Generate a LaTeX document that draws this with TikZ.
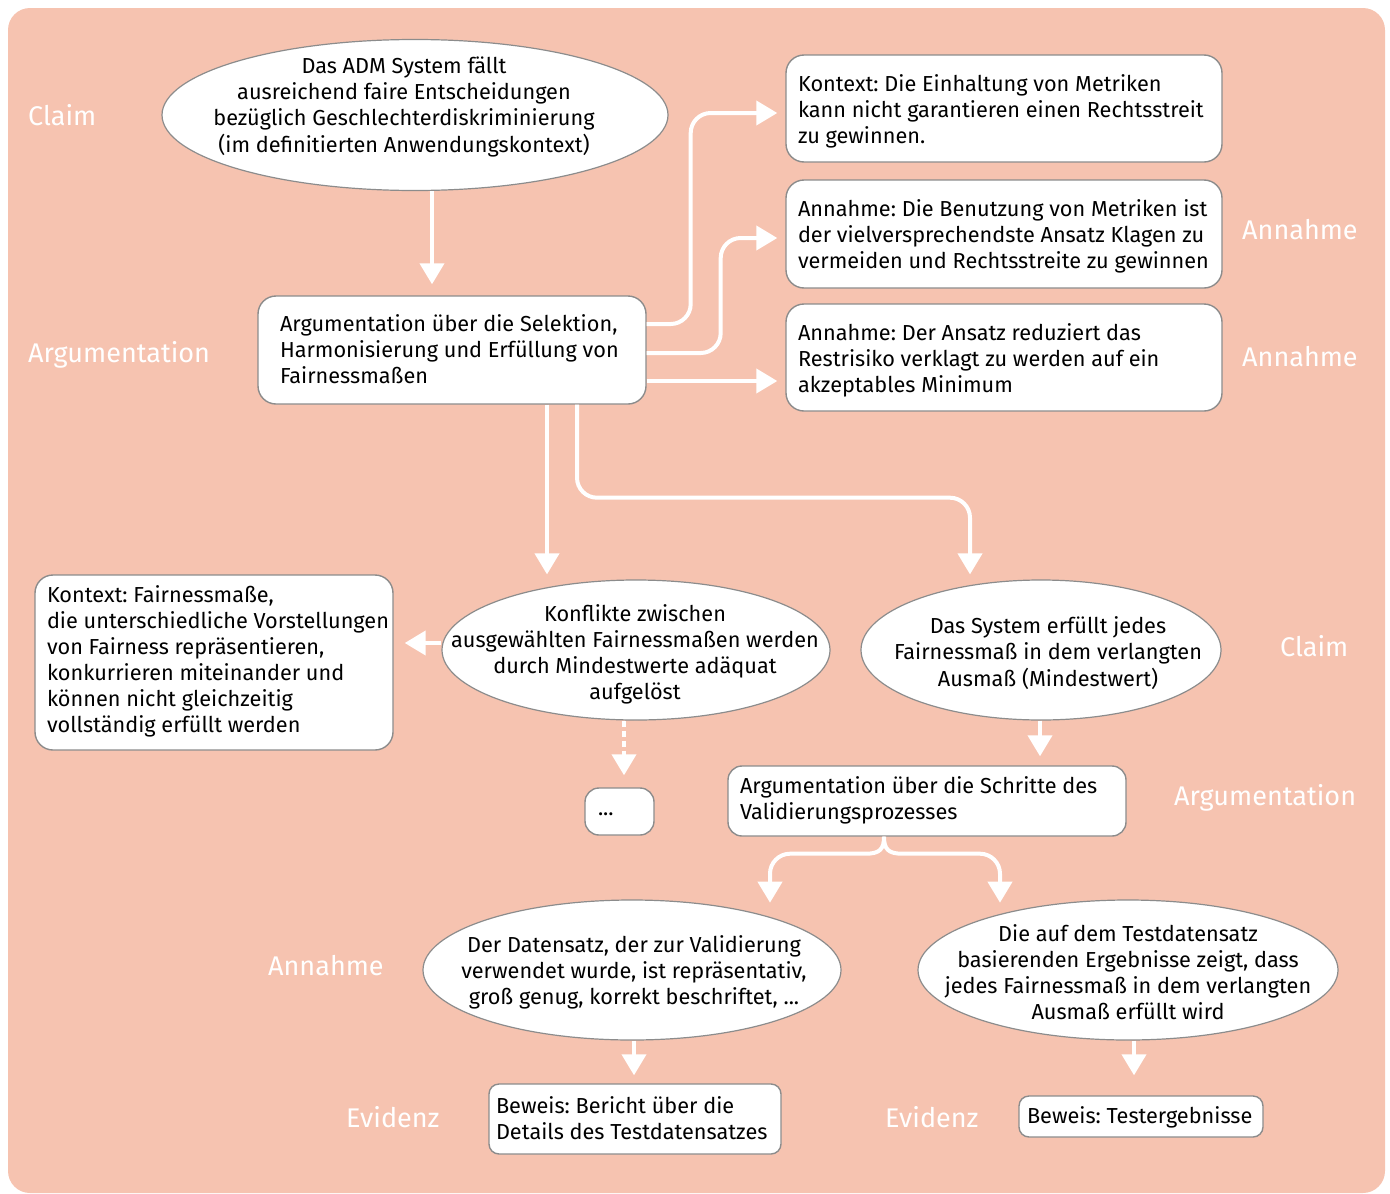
\documentclass[tikz,border=0pt]{standalone}
\usepackage{fontspec}
\setmainfont{Fira Sans}
\usetikzlibrary{arrows.meta,shapes.geometric,calc}
\definecolor{bgc}{RGB}{246,195,176}
\definecolor{edgec}{RGB}{140,140,140}
\newcommand{\lbtext}[3][-7pt]{\raisebox{#1}{\makebox[#2][l]{\begin{tabular}{@{}l@{}}#3\end{tabular}}}}
\newcommand{\ctext}[3]{\raisebox{#2}{\makebox[0pt]{\hspace{#1}\hspace{#1}\begin{tabular}{@{}c@{}}#3\end{tabular}}}}
\tikzset{
  boxnode/.style={draw=edgec, line width=1.4pt, fill=white, rounded corners=18pt, inner xsep=12pt, inner ysep=0pt, anchor=center, text height=0pt, text depth=0pt},
  ellnode/.style={draw=edgec, line width=1.2pt, fill=white, ellipse, inner sep=0pt, anchor=center, text height=0pt, text depth=0pt},
  tag/.style={text=white, font=\fontsize{27}{32}\selectfont, anchor=west, inner sep=0pt},
  conn/.style={draw=white, line width=4pt, -{Triangle[width=24pt,length=21pt]}},
  dconn/.style={conn, dash pattern=on 6pt off 4pt},
}
\begin{document}
\frenchspacing
\begin{tikzpicture}[x=1pt,y=-1pt, font=\fontsize{21.7}{26}\selectfont]
\useasboundingbox (0,0) rectangle (1390,1194);
\fill[bgc, rounded corners=22pt] (8,8) rectangle (1385,1193);

% nodes
\node[ellnode, minimum width=506pt, minimum height=151pt] (top) at (415,115)
  {\ctext{-11pt}{2pt}{Das ADM System fällt\\ausreichend faire Entscheidungen\\bezüglich Geschlechterdiskriminierung\\(im definitierten Anwendungskontext)}};
\node[boxnode, inner xsep=22pt, minimum width=388pt, minimum height=108pt] (arg) at (452,350)
  {\lbtext[-7pt]{344pt}{Argumentation über die Selektion,\\Harmonisierung und Erfüllung von\\Fairnessmaßen}};
\node[boxnode, minimum width=436pt, minimum height=107pt] (kont) at (1004,108.5)
  {\lbtext[-8.5pt]{412pt}{Kontext: Die Einhaltung von Metriken\\kann nicht garantieren einen Rechtsstreit\\zu gewinnen.}};
\node[boxnode, minimum width=436pt, minimum height=108pt] (ann1) at (1004,234)
  {\lbtext[-8pt]{412pt}{Annahme: Die Benutzung von Metriken ist\\der vielversprechendste Ansatz Klagen zu\\vermeiden und Rechtsstreite zu gewinnen}};
\node[boxnode, minimum width=436pt, minimum height=107pt] (ann2) at (1004,357.5)
  {\lbtext[-8.5pt]{412pt}{Annahme: Der Ansatz reduziert das\\Restrisiko verklagt zu werden auf ein\\akzeptables Minimum}};
\node[boxnode, minimum width=358pt, minimum height=175pt] (ctx) at (214,662.5)
  {\lbtext[-4.5pt]{334pt}{Kontext: Fairnessmaße,\\die unterschiedliche Vorstellungen\\von Fairness repräsentieren,\\konkurrieren miteinander und\\können nicht gleichzeitig\\vollständig erfüllt werden}};
\node[ellnode, minimum width=388pt, minimum height=140pt] (konf) at (636,650)
  {\ctext{-1pt}{-10pt}{Konflikte zwischen\\ausgewählten Fairnessmaßen werden\\durch Mindestwerte adäquat\\aufgelöst}};
\node[ellnode, minimum width=360pt, minimum height=140pt] (sys) at (1041,650)
  {\ctext{7pt}{-10pt}{Das System erfüllt jedes\\Fairnessmaß in dem verlangten\\Ausmaß (Mindestwert)}};
\node[boxnode, rounded corners=14pt, minimum width=69pt, minimum height=47pt] (dots) at (619.5,811.5)
  {\lbtext[-3.7pt]{45pt}{\hspace{1pt}...}};
\node[boxnode, rounded corners=14pt, minimum width=398pt, minimum height=70pt] (val) at (927,801)
  {\lbtext[-5pt]{374pt}{Argumentation über die Schritte des\\Validierungsprozesses}};
\node[ellnode, minimum width=418pt, minimum height=140pt] (ds) at (632,970)
  {\ctext{2pt}{-8pt}{Der Datensatz, der zur Validierung\\verwendet wurde, ist repräsentativ,\\groß genug, korrekt beschriftet, ...}};
\node[ellnode, minimum width=420pt, minimum height=140pt] (td) at (1128,970)
  {\ctext{0pt}{-10pt}{Die auf dem Testdatensatz\\basierenden Ergebnisse zeigt, dass\\jedes Fairnessmaß in dem verlangten\\Ausmaß erfüllt wird}};
\node[boxnode, rounded corners=10pt, inner xsep=7pt, minimum width=292pt, minimum height=70pt] (bl) at (635,1119)
  {\lbtext[-7pt]{278pt}{Beweis: Bericht über die\\Details des Testdatensatzes}};
\node[boxnode, rounded corners=10pt, inner xsep=8pt, minimum width=244pt, minimum height=41pt] (br) at (1141,1116.5)
  {\lbtext[-7pt]{228pt}{Beweis: Testergebnisse}};

% labels
\node[tag] (l1) at (28,115) {Claim};
\node[tag] (l2) at (28,355) {Argumentation};
\node[tag] (l3) at (1242,230) {Annahme};
\node[tag] (l4) at (1242,357) {Annahme};
\node[tag] (l5) at (1280,646) {Claim};
\node[tag] (l6) at (1174,798) {Argumentation};
\node[tag] (l7) at (268,966) {Annahme};
\node[tag] (l8) at (346,1117) {Evidenz};
\node[tag] (l9) at (885,1117) {Evidenz};

% connectors
\draw[conn, shorten >=11pt] ([xshift=17pt]top.south) -- ([xshift=17pt]top.south |- arg.north);
\draw[conn, rounded corners=20pt, shorten >=8pt] ([yshift=26pt]arg.east) -- ++(44,0) |- ([yshift=-4.5pt]kont.west);
\draw[conn, rounded corners=20pt, shorten >=8pt] ([yshift=-3pt]arg.east) -- ++(74,0) |- ([yshift=-4pt]ann1.west);
\draw[conn, shorten >=8pt] ([yshift=-31pt]arg.east) -- ([yshift=-31pt]arg.east -| ann2.west);
\draw[conn, shorten >=5pt] ([xshift=95pt]arg.south) -- ([xshift=95pt]arg.south |- konf.north);
\draw[conn, rounded corners=20pt, shorten >=5pt] ([xshift=125pt]arg.south) -- ++(0,93) -| ([xshift=-71pt]sys.north);
\draw[conn, shorten >=11pt] ([yshift=7pt]konf.west) -- ([yshift=7pt]konf.west -| ctx.east);
\draw[dconn, shorten >=12pt] ([xshift=-12pt]konf.south) -- ([xshift=-12pt]konf.south |- dots.north);
\draw[conn, shorten >=9pt] ([xshift=-1pt]sys.south) -- ([xshift=-1pt]sys.south |- val.north);
\coordinate (brace) at ([xshift=-43pt]val.south);
\draw[conn] (brace) .. controls +(0,12) and +(14,0) .. ++(-18,17) -- ++(-76,0)
  .. controls +(-11,0) and +(0,-11) .. ++(-20,20) -- ++(0,29);
\draw[conn] (brace) .. controls +(0,12) and +(-14,0) .. ++(18,17) -- ++(78,0)
  .. controls +(11,0) and +(0,-11) .. ++(20,20) -- ++(0,29);
\draw[conn, shorten >=8pt] ([xshift=2pt]ds.south) -- ([xshift=2pt]ds.south |- bl.north);
\draw[conn, shorten >=20pt] ([xshift=6pt]td.south) -- ([xshift=6pt]td.south |- br.north);
\end{tikzpicture}
\end{document}
